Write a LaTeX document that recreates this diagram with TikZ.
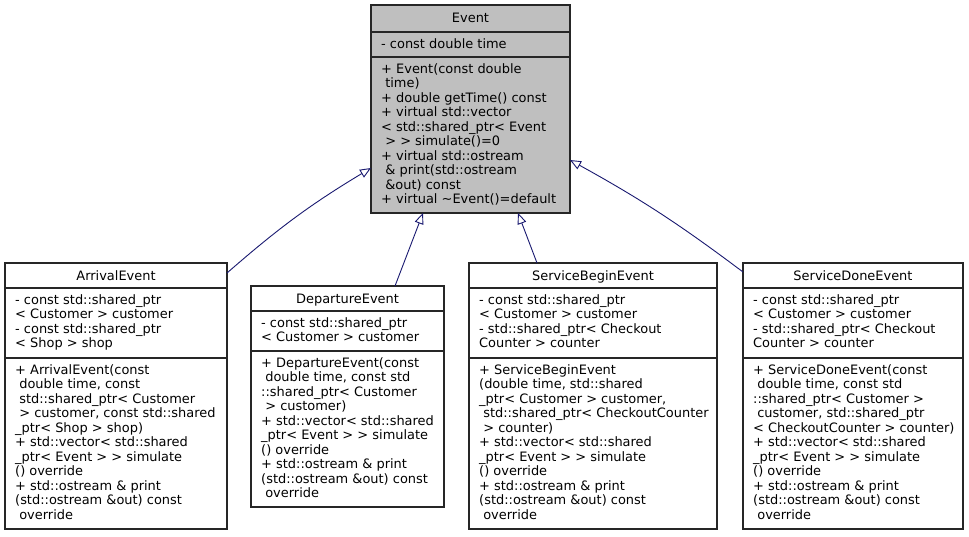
\documentclass[tikz,border=0pt]{standalone}
\usepackage{fontspec}
\setmainfont{DejaVu Sans}
\usetikzlibrary{arrows.meta}
\definecolor{edgeblue}{HTML}{191970}
\definecolor{basefill}{HTML}{BFBFBF}
\tikzstyle{classbox}=[draw=black!85,line width=1.2pt,inner sep=0pt,outer sep=0pt,anchor=north west]
\tikzstyle{classname}=[anchor=base,inner sep=0pt]
% members: placed by the baseline of their last line
\tikzstyle{members}=[anchor=base west,inner sep=0pt,align=left]
\tikzstyle{separator}=[draw=black!85,line width=1.2pt]
\tikzstyle{inherit}=[draw=edgeblue,line width=0.9pt,-{Triangle[open,length=11pt,width=9pt]}]

\begin{document}
\begin{tikzpicture}[x=1pt,y=-1pt,font=\fontsize{12.95}{14.5}\selectfont]
    \useasboundingbox (0,0) rectangle (969,536);
    % base class
    \node[classbox,fill=basefill,minimum width=199pt,minimum height=208pt] (event) at (371,5) {};
    \draw[separator] ([yshift=-27pt]event.north west) -- ([yshift=-27pt]event.north east);
    \draw[separator] ([yshift=-52pt]event.north west) -- ([yshift=-52pt]event.north east);
    \node[classname] (event-name) at (470.5,22.5) {Event};
    \node[members] (event-attr) at (381,48) {- const double time};
    \node[members] (event-ops) at (381,203.5) {+ Event(const double\\
        \ time)\\
        + double getTime() const\\
        + virtual std::vector\\
        < std::shared\_ptr< Event\\
        \ > > simulate()=0\\
        + virtual std::ostream\\
        \ \& print(std::ostream\\
        \ \&out) const\\
        + virtual \textasciitilde Event()=default};

    % derived classes
    \node[classbox,minimum width=222pt,minimum height=266pt] (arrival) at (5,263) {};
    \draw[separator] ([yshift=-25pt]arrival.north west) -- ([yshift=-25pt]arrival.north east);
    \draw[separator] ([yshift=-95pt]arrival.north west) -- ([yshift=-95pt]arrival.north east);
    \node[classname] (arrival-name) at (116,280) {ArrivalEvent};
    \node[members] (arrival-attr) at (15,347.5) {- const std::shared\_ptr\\
        < Customer > customer\\
        - const std::shared\_ptr\\
        < Shop > shop};
    \node[members] (arrival-ops) at (15,519) {+ ArrivalEvent(const\\
        \ double time, const\\
        \ std::shared\_ptr< Customer\\
        \ > customer, const std::shared\\
        \_ptr< Shop > shop)\\
        + std::vector< std::shared\\
        \_ptr< Event > > simulate\\
        () override\\
        + std::ostream \& print\\
        (std::ostream \&out) const\\
        \ override};

    \node[classbox,minimum width=193pt,minimum height=221pt] (departure) at (251,286) {};
    \draw[separator] ([yshift=-25pt]departure.north west) -- ([yshift=-25pt]departure.north east);
    \draw[separator] ([yshift=-65pt]departure.north west) -- ([yshift=-65pt]departure.north east);
    \node[classname] (departure-name) at (347.5,303) {DepartureEvent};
    \node[members] (departure-attr) at (261,341.5) {- const std::shared\_ptr\\
        < Customer > customer};
    \node[members] (departure-ops) at (261,497.5) {+ DepartureEvent(const\\
        \ double time, const std\\
        ::shared\_ptr< Customer\\
        \ > customer)\\
        + std::vector< std::shared\\
        \_ptr< Event > > simulate\\
        () override\\
        + std::ostream \& print\\
        (std::ostream \&out) const\\
        \ override};

    \node[classbox,minimum width=248pt,minimum height=266pt] (sbegin) at (469,263) {};
    \draw[separator] ([yshift=-25pt]sbegin.north west) -- ([yshift=-25pt]sbegin.north east);
    \draw[separator] ([yshift=-95pt]sbegin.north west) -- ([yshift=-95pt]sbegin.north east);
    \node[classname] (sbegin-name) at (593,280) {ServiceBeginEvent};
    \node[members] (sbegin-attr) at (479,347.5) {- const std::shared\_ptr\\
        < Customer > customer\\
        - std::shared\_ptr< Checkout\\
        Counter > counter};
    \node[members] (sbegin-ops) at (479,519) {+ ServiceBeginEvent\\
        (double time, std::shared\\
        \_ptr< Customer > customer,\\
        \ std::shared\_ptr< CheckoutCounter\\
        \ > counter)\\
        + std::vector< std::shared\\
        \_ptr< Event > > simulate\\
        () override\\
        + std::ostream \& print\\
        (std::ostream \&out) const\\
        \ override};

    \node[classbox,minimum width=220pt,minimum height=266pt] (sdone) at (743,263) {};
    \draw[separator] ([yshift=-25pt]sdone.north west) -- ([yshift=-25pt]sdone.north east);
    \draw[separator] ([yshift=-95pt]sdone.north west) -- ([yshift=-95pt]sdone.north east);
    \node[classname] (sdone-name) at (853,280) {ServiceDoneEvent};
    \node[members] (sdone-attr) at (753,347.5) {- const std::shared\_ptr\\
        < Customer > customer\\
        - std::shared\_ptr< Checkout\\
        Counter > counter};
    \node[members] (sdone-ops) at (753,519) {+ ServiceDoneEvent(const\\
        \ double time, const std\\
        ::shared\_ptr< Customer >\\
        \ customer, std::shared\_ptr\\
        < CheckoutCounter > counter)\\
        + std::vector< std::shared\\
        \_ptr< Event > > simulate\\
        () override\\
        + std::ostream \& print\\
        (std::ostream \&out) const\\
        \ override};

    % inheritance
    \draw[inherit] ([yshift=-10pt]arrival.north east) to[bend left=5] ([yshift=45pt]event.south west);
    \draw[inherit] ([xshift=47.5pt]departure.north) -- ([xshift=-47.5pt]event.south);
    \draw[inherit] ([xshift=-56pt]sbegin.north) -- ([xshift=47.5pt]event.south);
    \draw[inherit] ([yshift=-9pt]sdone.north west) to[bend right=4] ([yshift=53pt]event.south east);
\end{tikzpicture}
\end{document}
